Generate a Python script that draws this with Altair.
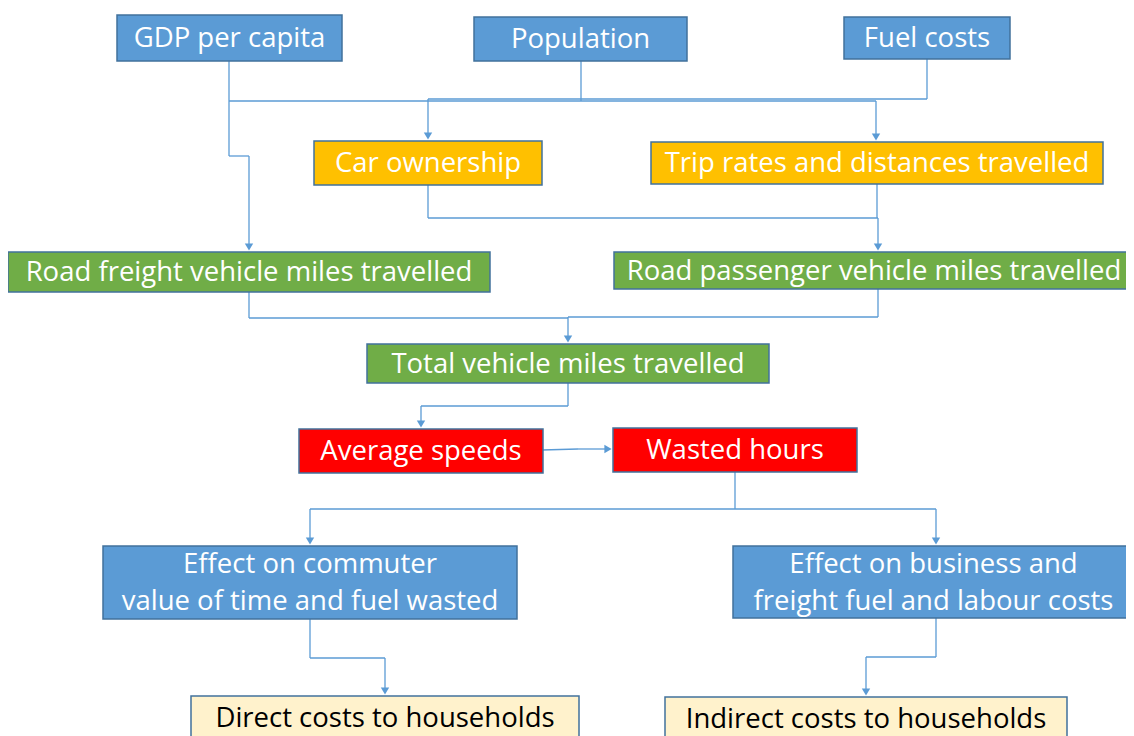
import altair as alt
import pandas as pd

# Nodes of the flow chart (reference pixel coordinates)
labels = [
    "GDP per capita", "Population", "Fuel costs",
    "Car ownership", "Trip rates and distances travelled",
    "Road freight vehicle miles travelled", "Road passenger vehicle miles travelled",
    "Total vehicle miles travelled",
    "Average speeds", "Wasted hours",
    "Effect on commuter\nvalue of time and fuel wasted",
    "Effect on business and\nfreight fuel and labour costs",
    "Direct costs to households", "Indirect costs to households",
]
box_x0 = [117, 474, 844, 314, 651, 8, 614, 367, 299, 613, 103, 733, 191, 665]
box_x1 = [342, 687, 1010, 542, 1103, 490, 1134, 769, 543, 857, 517, 1134, 579, 1067]
box_y0 = [15, 17, 17, 141, 142, 252, 252, 344, 429, 428, 546, 546, 696, 697]
box_y1 = [61, 61, 59, 185, 184, 292, 289, 383, 473, 472, 619, 618, 740, 740]
kinds = ["driver", "driver", "driver", "mid", "mid", "vmt", "vmt", "vmt",
         "speed", "speed", "effect", "effect", "cost", "cost"]

kind_names = ["driver", "mid", "vmt", "speed", "effect", "cost"]
kind_fill = ["#5B9BD5", "#FFC000", "#70AD47", "#FF0000", "#5B9BD5", "#FFF2CC"]
kind_text = ["white", "white", "white", "white", "white", "black"]

# Connector segments
seg_x1 = [229, 229, 249, 229, 581, 927, 927, 428, 876,
          428, 428, 877, 878,
          249, 249, 878, 878, 568,
          568, 568, 421,
          542, 578,
          735, 735, 735, 310, 936,
          310, 310, 385,
          936, 936, 866]
seg_y1 = [61, 156, 156, 101, 61, 59, 99, 99, 101,
          185, 218, 184, 218,
          292, 318, 289, 317, 317,
          383, 406, 406,
          450, 449,
          472, 509, 509, 509, 509,
          619, 658, 658,
          618, 657, 657]
seg_x2 = [229, 249, 249, 876, 581, 927, 428, 428, 876,
          428, 878, 877, 878,
          249, 568, 878, 568, 568,
          568, 421, 421,
          578, 607,
          735, 310, 936, 310, 936,
          310, 385, 385,
          936, 866, 866]
seg_y2 = [156, 156, 246, 101, 101, 99, 99, 136, 137,
          218, 218, 218, 246,
          318, 318, 317, 317, 338,
          406, 406, 423,
          449, 449,
          509, 509, 509, 540, 540,
          658, 658, 690,
          657, 657, 691]

# Arrow heads
arrow_x = [428, 876, 249, 878, 568, 421, 608, 310, 936, 385, 866]
arrow_y = [136, 137, 247, 247, 339, 424, 449, 541, 541, 691, 692]
arrow_dir = ["triangle-down", "triangle-down", "triangle-down", "triangle-down",
             "triangle-down", "triangle-down", "triangle-right", "triangle-down",
             "triangle-down", "triangle-down", "triangle-down"]

fill_map = dict(zip(kind_names, kind_fill))
text_map = dict(zip(kind_names, kind_text))

LINE_H = 37

nodes = pd.DataFrame({
    "label": labels, "x0": box_x0, "x1": box_x1, "y0": box_y0, "y1": box_y1,
    "kind": kinds,
})
nodes["fill"] = nodes["kind"].map(fill_map)
nodes["tcolor"] = nodes["kind"].map(text_map)
nodes["cx"] = (nodes["x0"] + nodes["x1"]) / 2
nodes["nlines"] = nodes["label"].str.count("\n") + 1
nodes["cy"] = (nodes["y0"] + nodes["y1"]) / 2 + 1 - (nodes["nlines"] - 1) * LINE_H / 2

segs = pd.DataFrame({"x1": seg_x1, "y1": seg_y1, "x2": seg_x2, "y2": seg_y2})
arrows = pd.DataFrame({"x": arrow_x, "y": arrow_y, "shape": arrow_dir})

W, H = 1118, 728
xs = alt.Scale(domain=[8, 8 + W], nice=False, zero=False)
ys = alt.Scale(domain=[8, 8 + H], nice=False, zero=False, reverse=True)

line_color = "#5B9BD5"

rules = alt.Chart(segs).mark_rule(color=line_color, strokeWidth=1.3).encode(
    x=alt.X("x1:Q", scale=xs, axis=None),
    y=alt.Y("y1:Q", scale=ys, axis=None),
    x2="x2:Q", y2="y2:Q",
)

heads = alt.Chart(arrows).mark_point(filled=True, color=line_color, opacity=1, size=70).encode(
    x=alt.X("x:Q", scale=xs, axis=None),
    y=alt.Y("y:Q", scale=ys, axis=None),
    shape=alt.Shape("shape:N", scale=None),
)

boxes = alt.Chart(nodes).mark_rect(stroke="#41719C", strokeWidth=1.5).encode(
    x=alt.X("x0:Q", scale=xs, axis=None),
    y=alt.Y("y0:Q", scale=ys, axis=None),
    x2="x1:Q", y2="y1:Q",
    fill=alt.Fill("fill:N", scale=None),
)

texts = alt.Chart(nodes).mark_text(
    font="Open Sans", fontSize=27.5, lineBreak="\n", lineHeight=LINE_H,
    baseline="middle", align="center"
).encode(
    x=alt.X("cx:Q", scale=xs, axis=None),
    y=alt.Y("cy:Q", scale=ys, axis=None),
    text="label:N",
    color=alt.Color("tcolor:N", scale=None),
)

chart = alt.layer(rules, heads, boxes, texts).properties(
    width=W, height=H, autosize=alt.AutoSizeParams(type="none"), padding=0,
    background="white",
).configure_view(stroke=None)

chart.save("out.html", embed_options={"renderer": "svg", "actions": False})
